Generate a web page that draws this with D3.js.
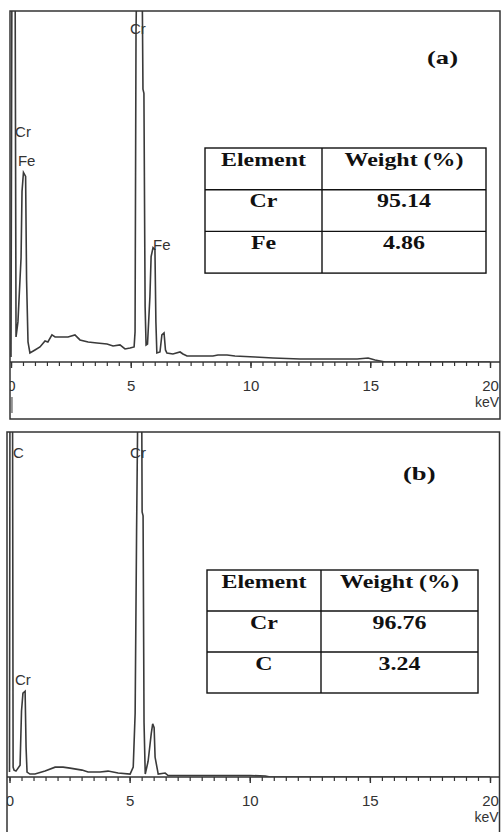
<!DOCTYPE html>
<html lang="en">
<head>
    <meta charset="UTF-8">
    <title>EDS spectra</title>
    <style>
        body {
            margin: 0;
            background: #fff;
        }
        svg {
            display: block;
        }
        .tick text {
            font-family: "Liberation Sans", Arial, sans-serif;
            font-size: 15px;
            fill: #333;
        }
        .peak-label {
            font-family: "Liberation Sans", Arial, sans-serif;
            font-size: 15px;
            fill: #333;
        }
        .unit {
            font-family: "Liberation Sans", Arial, sans-serif;
            font-size: 14px;
            fill: #333;
        }
        .panel-title {
            font-family: "Liberation Serif", "Times New Roman", serif;
            font-size: 19px;
            font-weight: bold;
            fill: #111;
        }
        .table-text {
            font-family: "Liberation Serif", "Times New Roman", serif;
            font-size: 18px;
            font-weight: bold;
            fill: #111;
        }
    </style>
</head>
<body>
<svg id="chart"></svg>

<script src="https://cdn.jsdelivr.net/npm/d3@7/dist/d3.min.js"></script>
<script>
    // spectrum (a): energy in keV, counts (arbitrary units, 350 = full scale)
    var energyA = [0.00, 0.04, 0.17, 0.21, 0.29, 0.42, 0.46, 0.52, 0.61, 0.65, 0.71, 0.79,
        1.00, 1.21, 1.42, 1.54, 1.71, 1.84, 2.05, 2.38, 2.67, 2.88, 3.22, 3.59, 4.01, 4.26,
        4.55, 4.76, 4.97, 5.14, 5.18, 5.22, 5.26, 5.47, 5.51, 5.55, 5.60, 5.64, 5.70, 5.80,
        5.85, 5.93, 6.01, 6.05, 6.09, 6.22, 6.30, 6.39, 6.45, 6.51, 6.76, 7.06, 7.18, 7.35,
        8.43, 8.64, 9.02, 9.35, 10.19, 10.94, 12.07, 13.74, 14.45, 14.91, 15.20, 15.41,
        15.62, 20.00];
    var countsA = [5, 400, 400, 25, 40, 104, 170, 189, 185, 82, 20, 9,
        12, 15, 21, 20, 27, 25, 25, 25, 27, 22, 20, 19, 18, 16,
        17, 13, 14, 15, 30, 330, 400, 400, 272, 268, 55, 17, 18, 65,
        105, 114, 112, 40, 9, 10, 27, 29, 12, 9, 8, 10, 8, 6,
        6, 7, 7, 6, 5, 4, 3, 3, 3, 4, 2, 1,
        0, 0];

    // spectrum (b)
    var energyB = [0.00, 0.02, 0.125, 0.15, 0.19, 0.27, 0.44, 0.50, 0.56, 0.65, 0.69, 0.73,
        0.85, 1.06, 1.48, 1.90, 2.23, 2.52, 3.02, 3.27, 3.77, 4.10, 4.52, 5.02, 5.15, 5.23,
        5.29, 5.35, 5.50, 5.52, 5.56, 5.60, 5.65, 5.77, 5.90, 5.96, 6.02, 6.06, 6.19, 6.48,
        6.60, 7.94, 8.98, 10.02, 10.65, 10.85, 20.00];
    var countsB = [5, 400, 400, 10, 7, 6, 12, 67, 85, 87, 30, 5,
        3, 3, 6, 10, 10, 9, 7, 5, 5, 6, 4, 3, 10, 65,
        250, 400, 400, 269, 265, 55, 3, 16, 44, 54, 50, 20, 3, 4,
        1.5, 1.5, 1.5, 1.5, 1, 0, 0];

    var majorTicks = [0, 5, 10, 15, 20];
    var minorTicks = d3.range(0, 20.01, 0.5);

    // peak labels: text, energy (keV), counts level
    var peakTextA = ["Cr", "Fe", "Cr", "Fe"];
    var peakEnergyA = [0.17, 0.29, 4.97, 5.93];
    var peakCountsA = [224, 195, 327, 112];

    var peakTextB = ["C", "Cr", "Cr"];
    var peakEnergyB = [0.15, 5.02, 0.23];
    var peakCountsB = [324, 324, 93];

    // composition tables
    var tableHeader = ["Element", "Weight (%)"];
    var elementsA = ["Cr", "Fe"];
    var weightsA = ["95.14", "4.86"];
    var elementsB = ["Cr", "C"];
    var weightsB = ["96.76", "3.24"];

    (function () {
        var width = 501;
        var height = 832;
        var svg = d3.select("#chart")
            .attr("width", width)
            .attr("height", height);

        var panels = [
            {
                id: "a", title: "(a)",
                energy: energyA, counts: countsA,
                peakText: peakTextA, peakEnergy: peakEnergyA, peakCounts: peakCountsA,
                elements: elementsA, weights: weightsA,
                frame: {x: 10, y: 11, w: 490, h: 408},
                x0: 11, x20: 490, axisY: 362,
                titleX: 427, titleY: 64,
                table: {x: 205, y: 148, w: 281, split: 322, row: 41.7},
                marker: true
            },
            {
                id: "b", title: "(b)",
                energy: energyB, counts: countsB,
                peakText: peakTextB, peakEnergy: peakEnergyB, peakCounts: peakCountsB,
                elements: elementsB, weights: weightsB,
                frame: {x: 7, y: 432, w: 492.5, h: 410},
                x0: 9.5, x20: 490, axisY: 777,
                titleX: 403, titleY: 480,
                table: {x: 207, y: 570, w: 271, split: 321, row: 41},
                marker: false
            }
        ];

        panels.forEach(function (p) {
            var g = svg.append("g").attr("class", "panel-" + p.id);

            var x = d3.scaleLinear().domain([0, 20]).range([p.x0, p.x20]);
            var y = d3.scaleLinear().domain([0, 350]).range([p.axisY, p.frame.y]);

            // clip for whole panel and for the plotting area
            var defs = g.append("defs");
            defs.append("clipPath").attr("id", "frame-" + p.id)
                .append("rect")
                .attr("x", p.frame.x).attr("y", p.frame.y)
                .attr("width", p.frame.w).attr("height", p.frame.h);
            defs.append("clipPath").attr("id", "plot-" + p.id)
                .append("rect")
                .attr("x", p.frame.x).attr("y", p.frame.y)
                .attr("width", p.frame.w).attr("height", p.axisY - p.frame.y);

            var axisG = g.append("g").attr("clip-path", "url(#frame-" + p.id + ")");

            // minor ticks
            axisG.append("g")
                .attr("transform", "translate(0," + p.axisY + ")")
                .call(d3.axisBottom(x).tickValues(minorTicks).tickSize(4).tickFormat(""))
                .call(function (ax) {
                    ax.select(".domain").remove();
                    ax.selectAll("line").attr("stroke", "#333").attr("stroke-width", 1.2);
                });

            // major ticks + labels
            axisG.append("g")
                .attr("transform", "translate(0," + p.axisY + ")")
                .call(d3.axisBottom(x).tickValues(majorTicks).tickSize(6).tickPadding(12)
                    .tickFormat(d3.format("d")))
                .call(function (ax) {
                    ax.select(".domain").remove();
                    ax.selectAll("line").attr("stroke", "#333").attr("stroke-width", 1.4);
                });

            // baseline
            g.append("line")
                .attr("x1", p.frame.x).attr("x2", p.frame.x + p.frame.w)
                .attr("y1", p.axisY).attr("y2", p.axisY)
                .attr("stroke", "#333").attr("stroke-width", 1.3);

            g.append("text")
                .attr("class", "unit")
                .attr("x", p.frame.x + p.frame.w - 1)
                .attr("y", p.axisY + 45)
                .attr("text-anchor", "end")
                .text("keV");

            if (p.marker) {
                g.append("line")
                    .attr("x1", x(0.04)).attr("x2", x(0.04))
                    .attr("y1", p.axisY + 35).attr("y2", p.axisY + 51)
                    .attr("stroke", "#555").attr("stroke-width", 1.2);
            }

            // spectrum
            var line = d3.line()
                .x(function (d) { return x(d[0]); })
                .y(function (d) { return y(d[1]); });

            g.append("path")
                .datum(d3.zip(p.energy, p.counts))
                .attr("clip-path", "url(#plot-" + p.id + ")")
                .attr("d", line)
                .attr("fill", "none")
                .attr("stroke", "#3a3a3a")
                .attr("stroke-width", 1.6)
                .attr("stroke-linejoin", "miter");

            // peak labels
            g.selectAll(".peak-label")
                .data(p.peakText)
                .enter()
                .append("text")
                .attr("class", "peak-label")
                .attr("x", function (d, i) { return x(p.peakEnergy[i]); })
                .attr("y", function (d, i) { return y(p.peakCounts[i]); })
                .text(function (d) { return d; });

            // frame
            g.append("rect")
                .attr("x", p.frame.x).attr("y", p.frame.y)
                .attr("width", p.frame.w).attr("height", p.frame.h)
                .attr("fill", "none")
                .attr("stroke", "#333")
                .attr("stroke-width", 1.5);

            g.append("text")
                .attr("class", "panel-title")
                .attr("transform", "translate(" + p.titleX + "," + p.titleY + ") scale(1.4,1)")
                .text(p.title);

            // table
            var t = p.table;
            var rows = [tableHeader].concat(p.elements.map(function (e, i) {
                return [e, p.weights[i]];
            }));
            var tg = g.append("g");
            tg.append("rect")
                .attr("x", t.x).attr("y", t.y)
                .attr("width", t.w).attr("height", t.row * rows.length)
                .attr("fill", "#fff")
                .attr("stroke", "#111")
                .attr("stroke-width", 1.4);
            tg.append("line")
                .attr("x1", t.split).attr("x2", t.split)
                .attr("y1", t.y).attr("y2", t.y + t.row * rows.length)
                .attr("stroke", "#111").attr("stroke-width", 1.4);
            tg.selectAll(".row-line")
                .data(d3.range(1, rows.length))
                .enter()
                .append("line")
                .attr("x1", t.x).attr("x2", t.x + t.w)
                .attr("y1", function (d) { return t.y + d * t.row; })
                .attr("y2", function (d) { return t.y + d * t.row; })
                .attr("stroke", "#111").attr("stroke-width", 1.4);

            var colCenter = [(t.x + t.split) / 2, (t.split + t.x + t.w) / 2];
            rows.forEach(function (r, ri) {
                r.forEach(function (cell, ci) {
                    tg.append("text")
                        .attr("class", "table-text")
                        .attr("transform", "translate(" + colCenter[ci] + "," +
                            (t.y + ri * t.row + 17.5) + ") scale(1.33,1)")
                        .attr("text-anchor", "middle")
                        .text(cell);
                });
            });
        });
    })();
</script>
</body>
</html>
